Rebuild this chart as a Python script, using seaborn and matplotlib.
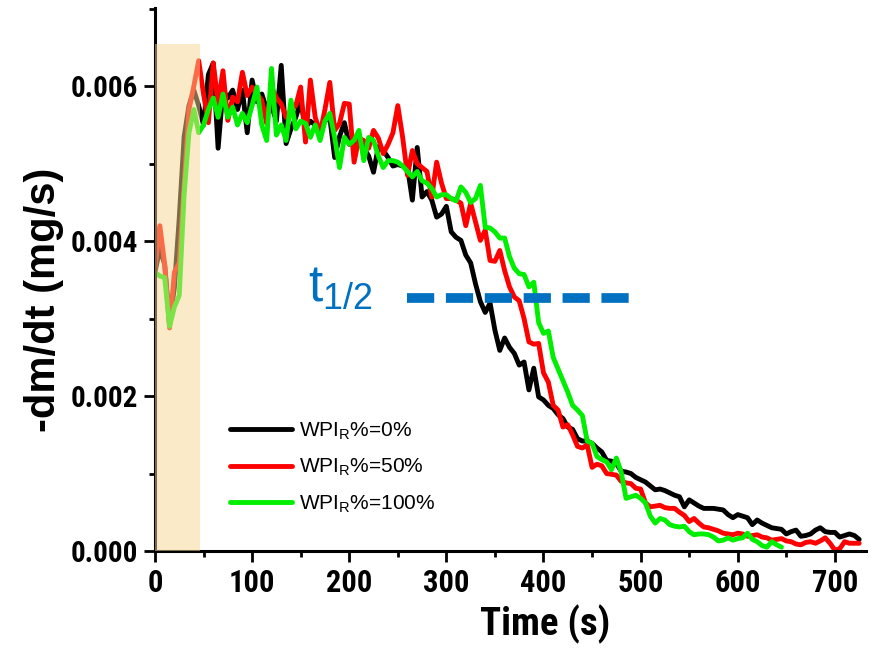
import os
import numpy as np
import pandas as pd
import matplotlib
matplotlib.use("Agg")
import matplotlib.pyplot as plt
import seaborn as sns
from matplotlib import font_manager as fm
from matplotlib.ticker import MultipleLocator

# ---------------- data (in 1e-3 mg/s) -------------
SAMPLE_STEP = 5  # s between recorded points

rate_0 = [3.60, 3.90, 3.70, 2.95, 3.40, 4.30, 5.35, 5.75, 5.95, 5.75,
          5.50, 6.15, 6.30, 5.20, 5.95, 5.85, 5.95, 5.70, 5.95, 5.40,
          6.08, 5.80, 5.90, 5.70, 5.75, 5.55, 6.27, 5.26, 5.45, 5.60,
          5.80, 5.47, 5.55, 5.50, 5.47, 5.55, 5.60, 5.08, 5.35, 5.53,
          5.25, 5.30, 5.25, 5.20, 5.10, 4.89, 5.22, 5.17, 5.08, 4.97,
          4.99, 4.97, 4.95, 4.53, 5.21, 4.57, 4.64, 4.53, 4.31, 4.35,
          4.45, 4.12, 4.05, 4.01, 3.82, 3.72, 3.45, 3.22, 3.08, 3.20,
          2.85, 2.59, 2.75, 2.63, 2.55, 2.40, 2.44, 2.08, 2.36, 1.99,
          1.95, 1.88, 1.84, 1.76, 1.71, 1.60, 1.57, 1.45, 1.42, 1.42,
          1.39, 1.33, 1.28, 1.17, 1.16, 1.13, 1.03, 1.02, 1.00, 0.95,
          0.92, 0.89, 0.84, 0.79, 0.80, 0.78, 0.75, 0.72, 0.70, 0.57,
          0.66, 0.62, 0.58, 0.55, 0.55, 0.55, 0.54, 0.53, 0.47, 0.43,
          0.47, 0.45, 0.43, 0.34, 0.40, 0.36, 0.33, 0.30, 0.29, 0.28,
          0.22, 0.25, 0.27, 0.19, 0.20, 0.22, 0.27, 0.30, 0.25, 0.24,
          0.24, 0.18, 0.20, 0.22, 0.20, 0.15]

rate_50 = [3.63, 4.20, 3.70, 2.88, 3.60, 3.72, 4.70, 5.70, 6.00, 6.33,
           5.90, 5.53, 6.30, 5.78, 6.20, 5.56, 5.86, 5.80, 6.18, 5.88,
           5.99, 5.90, 5.82, 5.52, 5.99, 5.85, 5.77, 5.60, 5.69, 5.75,
           5.99, 5.28, 6.08, 5.60, 5.39, 5.70, 6.05, 5.43, 5.52, 5.78,
           5.77, 5.02, 5.33, 5.30, 5.20, 5.43, 5.33, 5.13, 5.25, 5.40,
           5.75, 5.34, 4.85, 5.17, 5.00, 4.95, 4.90, 4.57, 5.02, 4.75,
           4.55, 4.55, 4.53, 4.49, 4.20, 4.49, 4.25, 4.01, 4.14, 3.75,
           3.74, 3.88, 3.62, 3.41, 3.28, 3.23, 3.00, 2.70, 2.67, 2.68,
           2.30, 2.18, 1.88, 1.82, 1.60, 1.63, 1.50, 1.35, 1.33, 1.37,
           1.08, 1.12, 1.10, 1.00, 0.99, 0.98, 0.90, 0.88, 0.87, 0.81,
           0.80, 0.62, 0.57, 0.58, 0.59, 0.56, 0.55, 0.55, 0.50, 0.46,
           0.38, 0.42, 0.36, 0.31, 0.30, 0.28, 0.26, 0.23, 0.22, 0.21,
           0.23, 0.22, 0.19, 0.20, 0.21, 0.18, 0.17, 0.14, 0.15, 0.16,
           0.13, 0.12, 0.09, 0.08, 0.11, 0.12, 0.10, 0.13, 0.17, 0.10,
           0.01, 0.03, 0.12, 0.10, 0.10, 0.10]

rate_100 = [3.60, 3.55, 3.53, 2.90, 3.15, 3.30, 4.60, 5.40, 5.70, 5.40,
            5.50, 5.70, 5.85, 5.60, 5.90, 5.60, 5.73, 5.50, 5.65, 5.53,
            5.75, 5.99, 5.50, 5.30, 6.23, 5.37, 5.50, 5.30, 5.82, 5.45,
            5.55, 5.52, 5.34, 5.50, 5.30, 5.55, 5.65, 5.34, 4.95, 5.34,
            5.25, 5.30, 5.43, 5.04, 5.34, 5.30, 5.10, 4.95, 5.04, 5.04,
            5.02, 4.97, 4.90, 4.83, 4.90, 4.78, 4.75, 4.68, 4.57, 4.60,
            4.60, 4.55, 4.52, 4.70, 4.63, 4.50, 4.55, 4.72, 4.18, 4.17,
            4.12, 4.04, 4.04, 3.80, 3.65, 3.58, 3.57, 3.41, 3.47, 2.95,
            2.81, 2.84, 2.50, 2.35, 2.20, 2.05, 1.88, 1.82, 1.75, 1.42,
            1.39, 1.22, 1.18, 1.15, 1.05, 1.20, 1.02, 0.68, 0.70, 0.72,
            0.68, 0.62, 0.45, 0.36, 0.42, 0.40, 0.34, 0.32, 0.31, 0.32,
            0.25, 0.21, 0.22, 0.22, 0.21, 0.18, 0.13, 0.14, 0.17, 0.14,
            0.16, 0.17, 0.23, 0.15, 0.12, 0.07, 0.05, 0.12, 0.08, 0.05]

series_labels = ["WPI$_\\mathregular{R}$%=0%",
                 "WPI$_\\mathregular{R}$%=50%",
                 "WPI$_\\mathregular{R}$%=100%"]
series_colors = ["#000000", "#FF0000", "#00EE00"]

x_ticks = [0, 100, 200, 300, 400, 500, 600, 700]
y_ticks = [0.000, 0.002, 0.004, 0.006]
y_tick_labels = ["0.000", "0.002", "0.004", "0.006"]

t_half_level = 0.003267
t_half_span = (259.5, 493.0)
shade_span = (0.0, 46.0)
shade_top = 0.00655

# ---------------- build long table ----------------
frames = []
for lab, vals in zip(series_labels, [rate_0, rate_50, rate_100]):
    n = len(vals)
    frames.append(pd.DataFrame({
        "time": [i * SAMPLE_STEP for i in range(n)],
        "rate": np.array(vals) / 1000.0,
        "series": lab,
    }))
df = pd.concat(frames, ignore_index=True)

# ---------------- style ----------------
sns.set_style("ticks")
plt.rcParams["font.family"] = ["Liberation Sans", "DejaVu Sans"]
plt.rcParams["axes.linewidth"] = 2.2
for k in ["text.color", "axes.labelcolor", "xtick.color", "ytick.color", "axes.edgecolor"]:
    plt.rcParams[k] = "black"


def narrow_bold(size):
    """Bold condensed sans if one is installed, else regular bold."""
    avail = {f.name for f in fm.fontManager.ttflist}
    for name in ["Liberation Sans Narrow", "Arial Narrow", "Roboto Condensed",
                 "Open Sans Condensed", "DejaVu Sans Condensed"]:
        if name in avail:
            return fm.FontProperties(family=[name], weight="bold", size=size), True
    for f in fm.fontManager.ttflist:
        base = os.path.basename(f.fname).lower()
        if ("condensed" in base or "narrow" in base) and "bold" in base and "oblique" not in base \
                and "italic" not in base and f.name in ("Roboto", "Open Sans", "Liberation Sans",
                                                        "DejaVu Sans", "Noto Sans", "Inter"):
            return fm.FontProperties(fname=f.fname, size=size), True
    return fm.FontProperties(family=["Liberation Sans"], weight="bold", size=size), False


fig = plt.figure(figsize=(8.78, 6.53), dpi=100)
ax = fig.add_axes([0.1765, 0.1562, 0.8098, 0.8315])

sns.lineplot(data=df, x="time", y="rate", hue="series", hue_order=series_labels,
             palette=series_colors, linewidth=3.5, estimator=None, legend=False,
             ax=ax, zorder=2)

# beige overlay region (drawn over the lines, semi-transparent)
ax.fill_between(list(shade_span), 0, shade_top, color="#F7D791", alpha=0.5,
                lw=0, zorder=3)

# t1/2 dashed line
ax.plot(list(t_half_span), [t_half_level, t_half_level], color="#0070C0", lw=7,
        linestyle=(0, (2.8, 1.2)), dash_capstyle="butt", zorder=4)
ax.text(158, 0.00322, r"$\mathregular{t_{1/2}}$", color="#0070C0", fontsize=37,
        ha="left", va="baseline", family=["Liberation Sans", "DejaVu Sans"])

ax.set_xlim(0, 732)
ax.set_ylim(0, 0.00701)
ax.set_xticks(x_ticks)
ax.set_yticks(y_ticks)
ax.set_yticklabels(y_tick_labels)
ax.xaxis.set_minor_locator(MultipleLocator(50))
ax.yaxis.set_minor_locator(MultipleLocator(0.001))
ax.tick_params(which="major", direction="out", length=8, width=2.0, pad=4)
ax.tick_params(which="minor", direction="out", length=4.5, width=2.0)

fp_tick, is_narrow = narrow_bold(22)
if not is_narrow:
    fp_tick = fm.FontProperties(family=["Liberation Sans"], weight="bold", size=19.5)
for lab in ax.get_xticklabels():
    lab.set_fontproperties(fp_tick)
fp_ytick = fp_tick.copy()
fp_ytick.set_size(fp_tick.get_size() - 1)
for lab in ax.get_yticklabels():
    lab.set_fontproperties(fp_ytick)

fp_xlab, nx = narrow_bold(28)
if not nx:
    fp_xlab = fm.FontProperties(family=["Liberation Sans"], weight="bold", size=24)
ax.set_xlabel("Time (s)", fontproperties=fp_xlab, labelpad=5, x=0.549)
ax.set_ylabel("-dm/dt (mg/s)", fontsize=30, fontweight="bold",
              family=["Liberation Sans"], labelpad=5, y=0.462)
sns.despine(ax=ax)

handles = ax.get_lines()[:3]
ax.legend(handles, series_labels, loc="upper left", bbox_to_anchor=(0.105, 0.240),
          frameon=False, fontsize=15, handlelength=3.0, handletextpad=0.35,
          labelspacing=0.7, borderpad=0, borderaxespad=0)

fig.savefig("out.png", dpi=100)
